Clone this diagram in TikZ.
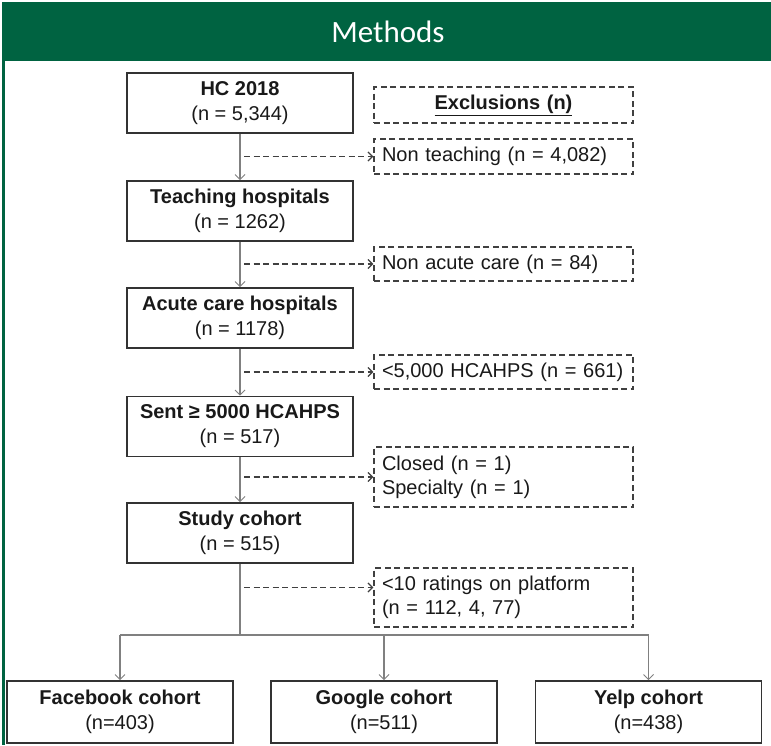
\documentclass[tikz,border=0pt]{standalone}
\usepackage{fontspec}
\setmainfont{Liberation Sans}
\newfontfamily\hdrfont{Carlito}
\usetikzlibrary{arrows.meta,calc}
\definecolor{hdrgreen}{RGB}{0,99,65}
\definecolor{txt}{RGB}{25,25,25}
\begin{document}
\begin{tikzpicture}[x=1pt,y=-1pt,
  mainbox/.style={draw=black!80, line width=1.6pt, minimum width=226pt, minimum height=60pt,
    align=center, inner sep=2pt, text=txt, font=\fontsize{20}{25}\selectfont},
  exbox/.style={draw=black!75, line width=1.4pt, dash pattern=on 6pt off 3.5pt,
    minimum width=259pt, text width=243pt, inner xsep=8pt, inner ysep=2pt, align=left,
    text=txt, font=\fontsize{20}{24}\selectfont},
  conn/.style={draw=black!50, line width=1.1pt},
  connarrow/.style={conn, -{Straight Barb[length=5pt,width=10pt,line width=1pt]}},
  exarrow/.style={draw=black!75, line width=1.4pt, dash pattern=on 6pt off 3.5pt,
    -{Straight Barb[length=4.5pt,width=9pt,line width=1.2pt]}}
]
\useasboundingbox (0,0) rectangle (771,745);
\fill[white] (0,0) rectangle (771,745);
% header and frame
\fill[hdrgreen] (2,2) rectangle (771,61);
\fill[hdrgreen] (2,2) rectangle (5,745);
\node[text=white, font=\hdrfont\fontsize{31}{33}\selectfont] (title) at (388,32) {Methods};

% main boxes
\node[mainbox] (hc) at (240,103) {\textbf{HC 2018}\\(n = 5,344)};
\node[mainbox] (teach) at (240,211) {\textbf{Teaching hospitals}\\(n = 1262)};
\node[mainbox] (acute) at (240,318) {\textbf{Acute care hospitals}\\(n = 1178)};
\node[mainbox] (sent) at (240,426.5) {\textbf{Sent ≥ 5000 HCAHPS}\\(n = 517)};
\node[mainbox] (study) at (240,533) {\textbf{Study cohort}\\(n = 515)};

% exclusion boxes
\node[exbox, minimum height=36pt, align=center] (excl) at (503.5,105) {\textbf{\underline{Exclusions (n)}}};
\node[exbox, minimum height=35pt] (nt) at (503.5,156.5) {Non teaching (n = 4,082)};
\node[exbox, minimum height=34pt] (na) at (503.5,264) {Non acute care (n = 84)};
\node[exbox, minimum height=34pt] (lh) at (503.5,372) {<5,000 HCAHPS (n = 661)};
\node[exbox, minimum height=60pt] (cs) at (503.5,477) {Closed (n = 1)\\Specialty (n = 1)};
\node[exbox, minimum height=59pt] (lt) at (503.5,597.5) {<10 ratings on platform\\(n = 112, 4, 77)};

% cohort boxes
\node[mainbox, minimum height=62pt] (fb) at (120,712) {\textbf{Facebook cohort}\\(n=403)};
\node[mainbox, minimum height=62pt] (gg) at (384,712) {\textbf{Google cohort}\\(n=511)};
\node[mainbox, minimum height=62pt] (yp) at (648.5,712) {\textbf{Yelp cohort}\\(n=438)};

% vertical flow
\draw[connarrow] (hc) -- (teach);
\draw[connarrow] (teach) -- (acute);
\draw[connarrow] (acute) -- (sent);
\draw[connarrow] (sent) -- (study);

% exclusion arrows
\draw[exarrow] ($(hc.south |- nt.west)+(4,0)$) -- (nt.west);
\draw[exarrow] ($(teach.south |- na.west)+(4,0)$) -- (na.west);
\draw[exarrow] ($(acute.south |- lh.west)+(4,0)$) -- (lh.west);
\draw[exarrow] ($(sent.south |- cs.west)+(4,0)$) -- (cs.west);
\coordinate (ltin) at ($(lt.west)+(0,-10)$);
\draw[exarrow] ($(study.south |- ltin)+(4,0)$) -- (ltin);

% split to cohorts
\coordinate (split) at (240,635);
\draw[conn] (study.south) -- (split);
\draw[conn] (fb.north |- split) -- (yp.north |- split);
\draw[connarrow] (fb.north |- split) -- (fb.north);
\draw[connarrow] (gg.north |- split) -- (gg.north);
\draw[connarrow] (yp.north |- split) -- (yp.north);
\end{tikzpicture}
\end{document}
